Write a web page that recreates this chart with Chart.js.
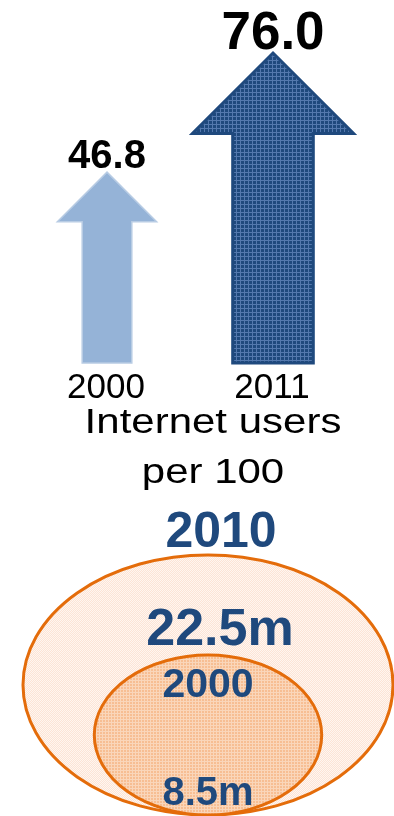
<!DOCTYPE html>
<html>
<head>
<meta charset="utf-8">
<script src="https://cdn.jsdelivr.net/npm/chart.js@4.4.1/dist/chart.umd.min.js"></script>
<style>
  html, body { margin: 0; padding: 0; background: #fff; }
  #wrap { position: relative; width: 394px; height: 816px; overflow: hidden; }
  #arrow-chart { position: absolute; left: 0; top: 0; }
  #bubble-chart { position: absolute; left: 0; top: 500px; }
</style>
</head>
<body>
<div id="wrap">
  <canvas id="arrow-chart" width="394" height="500"></canvas>
  <canvas id="bubble-chart" width="394" height="316"></canvas>
</div>
<script>
// --- datos ---
const years = ['2000', '2011'];
const usersPer100 = [46.8, 76.0];
const axisTitle = ['Internet users', 'per 100'];

const userYears = ['2010', '2000'];
const usersMillions = [22.5, 8.5];

// --- estilos ---
const FONT = '"Liberation Sans", Arial, sans-serif';
const NAVY = '#1F497D';
const ORANGE = '#E46C0A';
const valueFontSizes = [40, 53];

function makePattern(bg, fg, size, dots) {
    const c = document.createElement('canvas');
    c.width = size; c.height = size;
    const g = c.getContext('2d');
    g.fillStyle = bg;
    g.fillRect(0, 0, size, size);
    g.fillStyle = fg;
    if (dots) {
        g.fillRect(0, 0, 1, 1);
        g.fillRect(size / 2, size / 2, 1, 1);
    } else {
        g.fillRect(0, 0, size, 1);
        g.fillRect(0, 0, 1, size);
    }
    return g.createPattern(c, 'repeat');
}

// 1. FLECHAS
const arrowPlugin = {
    id: 'arrows',
    afterDatasetsDraw(chart) {
        const ctx = chart.ctx;
        const meta = chart.getDatasetMeta(0);
        const fills = [
            '#95B3D7',
            makePattern('#1F497D', '#5479AE', 4, false)
        ];
        const strokes = ['#B8CCE4', NAVY];
        const lineWidths = [1.5, 3];
        meta.data.forEach((bar, i) => {
            const top = bar.y, base = bar.base, x = bar.x;
            const sw = (base - top) * 0.26;
            const half = sw / 2;
            ctx.save();
            ctx.beginPath();
            ctx.moveTo(x, top);
            ctx.lineTo(x + sw, top + sw);
            ctx.lineTo(x + half, top + sw);
            ctx.lineTo(x + half, base);
            ctx.lineTo(x - half, base);
            ctx.lineTo(x - half, top + sw);
            ctx.lineTo(x - sw, top + sw);
            ctx.closePath();
            ctx.fillStyle = fills[i];
            ctx.fill();
            ctx.lineWidth = lineWidths[i];
            ctx.strokeStyle = strokes[i];
            ctx.lineJoin = 'miter';
            ctx.stroke();

            // valor
            ctx.fillStyle = '#000';
            ctx.textAlign = 'center';
            ctx.textBaseline = 'alphabetic';
            ctx.font = 'bold ' + valueFontSizes[i] + 'px ' + FONT;
            ctx.fillText(usersPer100[i].toFixed(1), x, top - 4);

            // año
            ctx.font = '35px ' + FONT;
            ctx.fillText(years[i], x - 1, 398);
            ctx.restore();
        });

        // titulo del eje
        ctx.save();
        ctx.fillStyle = '#000';
        ctx.textAlign = 'center';
        ctx.font = '35px ' + FONT;
        ctx.translate(213, 0);
        ctx.scale(1.2, 1);
        ctx.fillText(axisTitle[0], 0, 433);
        ctx.fillText(axisTitle[1], 0, 483);
        ctx.restore();
    }
};

new Chart(document.getElementById('arrow-chart'), {
    type: 'bar',
    data: {
        labels: years,
        datasets: [{
            data: usersPer100,
            backgroundColor: 'rgba(0,0,0,0)',
            borderWidth: 0,
            barPercentage: 1,
            categoryPercentage: 1
        }]
    },
    options: {
        responsive: false, animation: false,
        layout: { padding: { left: 24, right: 38, top: 0, bottom: 137 } },
        plugins: { legend: { display: false }, tooltip: { enabled: false } },
        scales: {
            x: { display: false },
            y: { display: false, min: 0, max: 89 }
        }
    },
    plugins: [arrowPlugin]
});

// 2. ELIPSES (area proporcional al valor)
const ellipsePlugin = {
    id: 'ellipses',
    afterDatasetsDraw(chart) {
        const ctx = chart.ctx;
        const xs = chart.scales.x;
        const meta = chart.getDatasetMeta(0);
        const fills = [
            makePattern('#FCE4D6', '#FFF6F0', 2, true),
            makePattern('#F7BE93', '#FAD6BA', 3, false)
        ];
        const shapes = meta.data.map((pt, i) => {
            const rx = xs.getPixelForValue(Math.sqrt(usersMillions[i])) - xs.getPixelForValue(0);
            const ry = rx * 0.703;
            return { x: pt.x, bottom: pt.y, rx: rx, ry: ry, cy: pt.y - ry, top: pt.y - 2 * ry };
        });

        shapes.forEach((s, i) => {
            ctx.save();
            ctx.beginPath();
            ctx.ellipse(s.x, s.cy, s.rx, s.ry, 0, 0, Math.PI * 2);
            ctx.fillStyle = fills[i];
            ctx.fill();
            ctx.lineWidth = 3;
            ctx.strokeStyle = ORANGE;
            ctx.stroke();
            ctx.restore();
        });

        ctx.save();
        ctx.fillStyle = NAVY;
        ctx.textAlign = 'center';
        ctx.textBaseline = 'alphabetic';
        const outer = shapes[0], inner = shapes[1];
        ctx.font = 'bold 50px ' + FONT;
        ctx.fillText(userYears[0], outer.x + 13, outer.top - 8);
        ctx.font = 'bold 52px ' + FONT;
        ctx.fillText(usersMillions[0].toFixed(1) + 'm', outer.x + 12, outer.top + 90);
        ctx.font = 'bold 41px ' + FONT;
        ctx.fillText(userYears[1], inner.x, inner.top + 42);
        ctx.font = 'bold 40px ' + FONT;
        ctx.fillText(usersMillions[1].toFixed(1) + 'm', inner.x, inner.bottom - 10);
        ctx.restore();
    }
};

new Chart(document.getElementById('bubble-chart'), {
    type: 'scatter',
    data: {
        labels: userYears,
        datasets: [{
            data: usersMillions.map(() => ({ x: 0, y: 0 })),
            pointRadius: 0,
            pointHoverRadius: 0
        }]
    },
    options: {
        responsive: false, animation: false,
        layout: { padding: { left: 0, right: 0, top: 0, bottom: 1 }, autoPadding: false },
        plugins: { legend: { display: false }, tooltip: { enabled: false } },
        scales: {
            x: { display: false, min: -5.333, max: 4.769 },
            y: { display: false, min: 0, max: 1 }
        }
    },
    plugins: [ellipsePlugin]
});
</script>
</body>
</html>
